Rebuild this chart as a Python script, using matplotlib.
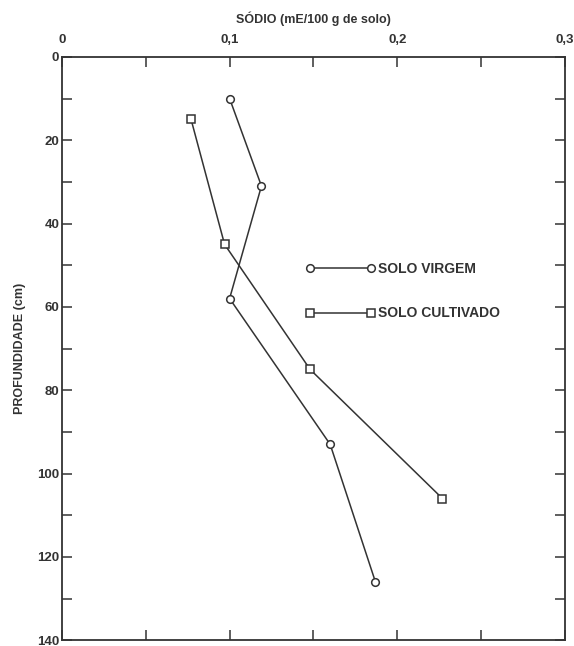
import numpy as np
import matplotlib
matplotlib.use("Agg")
import matplotlib.pyplot as plt
from matplotlib.ticker import FuncFormatter, MultipleLocator

plt.rcParams["font.family"] = ["Liberation Sans", "DejaVu Sans"]

# sodium (mE/100 g de solo) vs depth (cm)
virgem_sodio = [0.100, 0.119, 0.100, 0.160, 0.187]
virgem_prof = [10, 31, 58, 93, 126]
cultivado_sodio = [0.077, 0.097, 0.148, 0.227]
cultivado_prof = [15, 45, 75, 106]

x_labels = [0, 0.1, 0.2, 0.3]
y_labels = [0, 20, 40, 60, 80, 100, 120, 140]

fig = plt.figure(figsize=(5.74, 6.46), dpi=100)
ax = fig.add_axes([0.108, 0.009, 0.876, 0.903])

ax.plot(virgem_sodio, virgem_prof, color="#333333", lw=1.1, marker="o",
        ms=5.5, mfc="white", mec="#333333", mew=1.1, label="SOLO VIRGEM")
ax.plot(cultivado_sodio, cultivado_prof, color="#333333", lw=1.1, marker="s",
        ms=5.5, mfc="white", mec="#333333", mew=1.1, label="SOLO CULTIVADO")

ax.set_xlim(0, 0.3)
ax.set_ylim(140, 0)
ax.xaxis.tick_top()
ax.xaxis.set_label_position("top")
ax.set_xticks(x_labels)
ax.xaxis.set_minor_locator(MultipleLocator(0.05))
ax.set_yticks(y_labels)
ax.yaxis.set_minor_locator(MultipleLocator(10))
ax.xaxis.set_major_formatter(FuncFormatter(lambda v, p: "0" if v == 0 else f"{v:.1f}".replace(".", ",")))

ax.tick_params(which="both", direction="in", top=True, bottom=True, left=True, right=True,
               length=7, width=1.1, color="#333333")
ax.tick_params(axis="x", labelsize=9.5, pad=8)
ax.tick_params(axis="y", labelsize=9.5, pad=2)
for lab in ax.get_xticklabels() + ax.get_yticklabels():
    lab.set_fontweight("bold")
    lab.set_color("#333333")
for s in ax.spines.values():
    s.set_linewidth(1.3)
    s.set_color("#333333")

ax.set_xlabel("SÓDIO (mE/100 g de solo)", fontsize=9, fontweight="bold", color="#333333", labelpad=8)
ax.set_ylabel("PROFUNDIDADE (cm)", fontsize=9, fontweight="bold", color="#333333", labelpad=8)

leg = ax.legend(loc="upper left", bbox_to_anchor=(0.46, 0.67), frameon=False, numpoints=2,
                handlelength=5.0, handletextpad=0.2, labelspacing=2.2,
                prop={"size": 10, "weight": "bold"})
for t in leg.get_texts():
    t.set_color("#333333")

fig.savefig("out.png", dpi=100)
